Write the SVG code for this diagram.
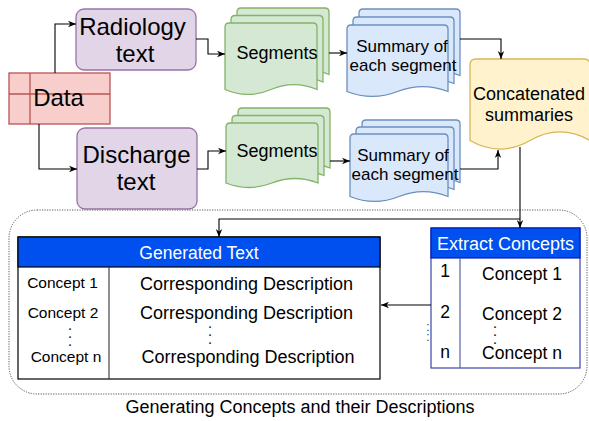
<svg xmlns="http://www.w3.org/2000/svg" xmlns:xlink="http://www.w3.org/1999/xlink" width="589" height="421" viewBox="0 0 589 421">
<style>
text{font-family:"Liberation Sans",Arial,Helvetica,sans-serif;fill:#000;text-anchor:middle}
.big{font-size:24px}
.mid{font-size:18px}
.sum{font-size:17px}
.sm{font-size:15.5px}
.ec{font-size:17.5px}
.hd{fill:#fff;font-size:17.5px}
.dots{font-size:11px;font-weight:bold;fill:#222}
.conn{fill:none;stroke:#000;stroke-width:1.1;marker-end:url(#arr)}
.seg{fill:#d5e8d4;stroke:#82b366;stroke-width:1.3}
.smy{fill:#dae8fc;stroke:#6c8ebf;stroke-width:1.3}
</style>
<defs>
<marker id="arr" viewBox="0 0 10 10" refX="10" refY="5" markerWidth="8" markerHeight="8" markerUnits="userSpaceOnUse" orient="auto">
<path d="M0,1 L10,5 L0,9 L3,5 Z" fill="#000"/>
</marker>
<path id="docSegT" d="M0,4 Q0,0 4,0 L88,0 Q92,0 92,4 L92,66.5 Q69,56.6 46,66.5 Q23,76.4 0,66.5 Z"/>
<path id="docSegB" d="M0,4 Q0,0 4,0 L88,0 Q92,0 92,4 L92,60 Q69,51 46,60 Q23,69 0,60 Z"/>
<path id="docSumT" d="M0,4 Q0,0 4,0 L97,0 Q101,0 101,4 L101,66.5 Q75.75,56.6 50.5,66.5 Q25.25,76.4 0,66.5 Z"/>
<path id="docSumB" d="M0,4 Q0,0 4,0 L94,0 Q98,0 98,4 L98,62.5 Q73.5,52.6 49,62.5 Q24.5,72.4 0,62.5 Z"/>
</defs>

<g id="container">
<rect x="9" y="210" width="578" height="184" rx="28" ry="28" fill="none" stroke="#555" stroke-width="1" stroke-dasharray="1.2 1.3"/>
<text class="mid" x="300" y="413">Generating Concepts and their Descriptions</text>
</g>

<g id="data">
<rect x="9" y="73" width="101" height="51" fill="#f8cecc" stroke="#b85450" stroke-width="1.3"/>
<line x1="30" y1="73" x2="30" y2="124" stroke="#b85450" stroke-width="1.3"/>
<line x1="9" y1="94" x2="110" y2="94" stroke="#b85450" stroke-width="1.3"/>
<text class="big" x="58.5" y="106">Data</text>
</g>

<g id="radiology">
<rect x="76" y="9" width="120" height="61" rx="8" ry="8" fill="#e1d5e7" stroke="#9673a6" stroke-width="1.3"/>
<text class="big" x="132.5" y="34.5">Radiology</text>
<text class="big" x="135" y="61.5">text</text>
</g>

<g id="discharge">
<rect x="77" y="128" width="120" height="81" rx="8" ry="8" fill="#e1d5e7" stroke="#9673a6" stroke-width="1.3"/>
<text class="big" x="136.5" y="162.5">Discharge</text>
<text class="big" x="136" y="190">text</text>
</g>

<g id="segments-top">
<use xlink:href="#docSegT" class="seg" transform="translate(237,8)"/>
<use xlink:href="#docSegT" class="seg" transform="translate(231,15.5)"/>
<use xlink:href="#docSegT" class="seg" transform="translate(225,23)"/>
<text class="mid" x="277" y="59">Segments</text>
</g>

<g id="segments-bottom">
<use xlink:href="#docSegB" class="seg" transform="translate(238,108)"/>
<use xlink:href="#docSegB" class="seg" transform="translate(232,115.5)"/>
<use xlink:href="#docSegB" class="seg" transform="translate(226,123)"/>
<text class="mid" x="277" y="157">Segments</text>
</g>

<g id="summary-top">
<use xlink:href="#docSumT" class="smy" transform="translate(359,9)"/>
<use xlink:href="#docSumT" class="smy" transform="translate(353,17)"/>
<use xlink:href="#docSumT" class="smy" transform="translate(347,25)"/>
<text class="sum" x="402" y="51.5">Summary of</text>
<text class="sum" x="403" y="71">each segment</text>
</g>

<g id="summary-bottom">
<use xlink:href="#docSumB" class="smy" transform="translate(362,120)"/>
<use xlink:href="#docSumB" class="smy" transform="translate(356,127)"/>
<use xlink:href="#docSumB" class="smy" transform="translate(350,134)"/>
<text class="sum" x="403" y="161">Summary of</text>
<text class="sum" x="405" y="179.5">each segment</text>
</g>

<g id="concatenated">
<path d="M470,65 Q470,59 476,59 L584,59 Q590,59 590,65 L590,140.5 Q560,123.4 530,140.5 Q500,157.6 470,140.5 Z" fill="#fff2cc" stroke="#d6b656" stroke-width="1.3"/>
<text class="mid" x="529" y="100">Concatenated</text>
<text class="mid" x="529" y="120.5">summaries</text>
</g>

<g id="generated-text">
<rect x="18" y="237" width="362" height="142" fill="#fff" stroke="#000" stroke-width="1.2"/>
<rect x="18" y="237" width="362" height="30" fill="#0050ef" stroke="#000" stroke-width="1.2"/>
<line x1="109" y1="267" x2="109" y2="379" stroke="#333" stroke-width="1.1"/>
<text class="hd" x="199" y="258.5">Generated Text</text>
<text class="sm" x="62.5" y="288">Concept 1</text>
<text class="sm" x="63" y="318">Concept 2</text>
<text class="dots" x="70" y="329.5">.<tspan x="70" dy="8.3">.</tspan><tspan x="70" dy="8.3">.</tspan></text>
<text class="sm" x="66" y="362">Concept n</text>
<text class="mid" x="246.5" y="290">Corresponding Description</text>
<text class="mid" x="246.5" y="319">Corresponding Description</text>
<text class="dots" x="210" y="327.5">.<tspan x="210" dy="8.3">.</tspan><tspan x="210" dy="8.3">.</tspan></text>
<text class="mid" x="248" y="363">Corresponding Description</text>
</g>

<g id="side-dots">
<text style="font-size:12px;fill:#444" x="428" y="330.5">:<tspan x="428" dy="10">:</tspan></text>
</g>

<g id="extract-concepts">
<rect x="431" y="228" width="149" height="140" fill="#fff" stroke="#3b45a8" stroke-width="1.2"/>
<rect x="431" y="228" width="149" height="30" fill="#0050ef" stroke="#001dbc" stroke-width="1.2"/>
<line x1="460" y1="258" x2="460" y2="368" stroke="#5a62a8" stroke-width="1.2"/>
<text class="hd" style="font-size:18px" x="505.5" y="250">Extract Concepts</text>
<text class="ec" x="445" y="277">1</text>
<text class="ec" x="522" y="280">Concept 1</text>
<text class="ec" x="445" y="318">2</text>
<text class="ec" x="522" y="320">Concept 2</text>
<text class="dots" x="495" y="327.5">.<tspan x="495" dy="8">.</tspan><tspan x="495" dy="8">.</tspan></text>
<text class="ec" x="445" y="358">n</text>
<text class="ec" x="522" y="359">Concept n</text>
</g>

<g id="connectors">
<path class="conn" d="M55,73 V24 H76"/>
<path class="conn" d="M39,124 V169 H77"/>
<path class="conn" d="M196,39 H208 V54 H225"/>
<path class="conn" d="M197,169 H208 V151 H226"/>
<path class="conn" d="M329,53 H347"/>
<path class="conn" d="M330,161 H350"/>
<path class="conn" d="M460,39 H501 V59"/>
<path class="conn" d="M460,169 H498 V150"/>
<path class="conn" d="M520,147 V228"/>
<path class="conn" d="M520,219 H219 V237"/>
<path class="conn" d="M431,305 H381"/>
</g>
</svg>
